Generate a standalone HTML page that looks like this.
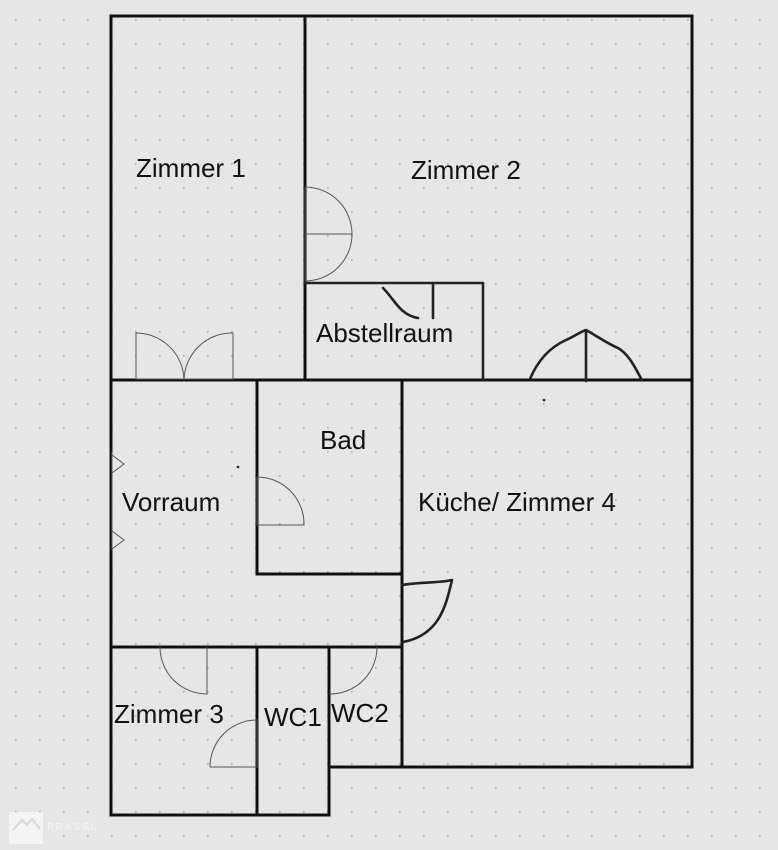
<!DOCTYPE html>
<html><head><meta charset="utf-8"><style>
html,body{margin:0;padding:0;width:778px;height:850px;overflow:hidden;background:#e6e6e6;}
svg{position:absolute;left:0;top:0;}
text{font-family:"Liberation Sans",sans-serif;font-size:26px;fill:#111;}
</style></head><body>
<svg width="778" height="850" viewBox="0 0 778 850">
<defs><pattern id="g" x="15" y="19" width="24" height="24" patternUnits="userSpaceOnUse"><circle cx="0.8" cy="0.8" r="0.9" fill="#a8a8a8"/></pattern></defs>
<rect width="778" height="850" fill="#e6e6e6"/>
<rect width="778" height="850" fill="url(#g)"/>
<g stroke="#111" stroke-width="3" fill="none" stroke-linecap="square">
<path d="M111 16H692V767H329V815H111Z"/>
<path d="M305 16V380M111 380H692M257 380V574H402M402 380V767M111 647H402M257 647V815M329 647V767"/>
</g>
<g stroke="#222" stroke-width="2.6" fill="none" stroke-linecap="round" stroke-linejoin="round">
<path d="M305 283H483V380"/>
<path d="M433 284V318M383 288C395 300 400 315 418 318"/>
<path d="M530 379C540 355 555 345 566 340C575 336 580 332 586 330C600 338 610 345 618 348C630 355 636 370 642 380M586 330V381"/>
<path d="M402 585C420 582 440 583 452 580C446 605 440 635 403 642"/>
</g>
<g stroke="#555" stroke-width="1" fill="none">
<path d="M305 187V281M305 234H352M305 187A47 47 0 0 1 352 234A47 47 0 0 1 305 281"/>
<path d="M136 380V333A48 48 0 0 1 184 380A48 48 0 0 1 233 333V380M136 379H233"/>
<path d="M257 477V525H304A47 47 0 0 0 257 477"/>
<path d="M160 647A47 47 0 0 0 207 694V647"/>
<path d="M210 767H257V720A47 47 0 0 0 210 767"/>
<path d="M377 647A47 47 0 0 1 329 694"/>
<path d="M112 452V550M112 455L124 464L112 473M112 531L124 540L112 549"/>
</g>
<text x="136" y="177">Zimmer 1</text>
<text x="411" y="179">Zimmer 2</text>
<text x="316" y="342">Abstellraum</text>
<text x="320" y="449">Bad</text>
<text x="122" y="511">Vorraum</text>
<text x="418" y="511">Küche/ Zimmer 4</text>
<text x="114" y="723">Zimmer 3</text>
<text x="264" y="726">WC1</text>
<text x="331" y="722">WC2</text>
<rect x="9" y="812" width="34" height="32" fill="#f4f4f4"/>
<path d="M13 830L22 820L27 825L32 819L40 829" stroke="#d8d8d8" stroke-width="2" fill="none"/>
<text x="47" y="830" style="font-size:10px;fill:#f6f6f6;letter-spacing:2px">PRASSL</text>
<circle cx="238" cy="467" r="1.3" fill="#222"/>
<circle cx="544" cy="400" r="1.3" fill="#222"/>
</svg>
</body></html>
